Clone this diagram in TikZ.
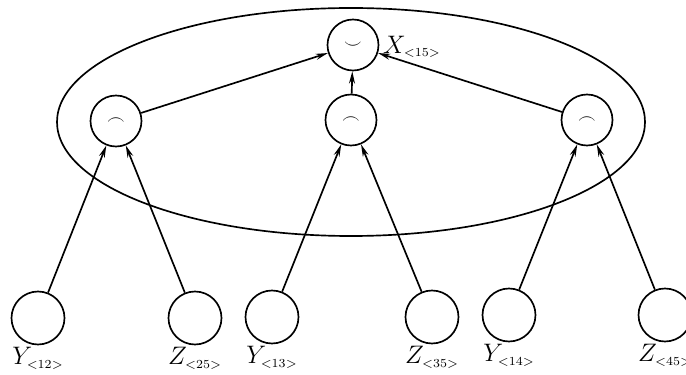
\documentclass[tikz,border=0pt]{standalone}
\usepackage{amsmath, amssymb}
\usepackage{tikz}
\usetikzlibrary{arrows.meta, positioning}

\newcommand{\idx}[2]{#1_{\scriptscriptstyle <#2>}}

\begin{document}
\begin{tikzpicture}[>={Stealth[length=7pt,width=3.4pt]},
    vtx/.style={draw, line width=0.95pt, circle, minimum size=1.02cm, inner sep=0pt},
    leaf/.style={draw, line width=0.95pt, circle, minimum size=1.06cm, inner sep=0pt},
    lbl/.style={inner sep=1pt, font=\Large},
    edge/.style={line width=0.95pt, ->}]

    % =================================================================
    % 1. KHUNG VA ELIP BAO QUANH
    % =================================================================
    \useasboundingbox (0,0) rectangle (13.72,7.48);
    \draw[line width=0.95pt] (7.02,5.04) ellipse (5.88cm and 2.28cm);

    % =================================================================
    % 2. CAC NUT (DINH TREN, HANG GIUA, HANG DUOI)
    % =================================================================
    \node[vtx] (top) at (7.06,6.58) {$\smile$};

    \node[vtx] (ml) at (2.32,5.06) {$\frown$};
    \node[vtx] (mc) at (7.02,5.08) {$\frown$};
    \node[vtx] (mr) at (11.74,5.08) {$\frown$};

    \node[leaf] (y12) at (0.76,1.12) {};
    \node[leaf] (z25) at (3.90,1.12) {};
    \node[leaf] (y13) at (5.44,1.14) {};
    \node[leaf] (z35) at (8.64,1.14) {};
    \node[leaf] (y14) at (10.18,1.18) {};
    \node[leaf] (z45) at (13.30,1.18) {};

    % =================================================================
    % 3. CAC MUI TEN
    % =================================================================
    \draw[edge] (y12) -- (ml);
    \draw[edge] (z25) -- (ml);
    \draw[edge] (y13) -- (mc);
    \draw[edge] (z35) -- (mc);
    \draw[edge] (y14) -- (mr);
    \draw[edge] (z45) -- (mr);

    \draw[edge] (ml) -- (top);
    \draw[edge] (mc) -- (top);
    \draw[edge] (mr) -- (top);

    % =================================================================
    % 4. NHAN
    % =================================================================
    \node[lbl, right=1pt of top, yshift=-1pt] (xlbl) {$\idx{X}{15}$};

    \node[lbl, below=0pt of y12] (y12lbl) {$\idx{Y}{12}$};
    \node[lbl, below=0pt of z25] (z25lbl) {$\idx{Z}{25}$};
    \node[lbl, below=0pt of y13] (y13lbl) {$\idx{Y}{13}$};
    \node[lbl, below=0pt of z35] (z35lbl) {$\idx{Z}{35}$};
    \node[lbl, below=0pt of y14] (y14lbl) {$\idx{Y}{14}$};
    \node[lbl, below=0pt of z45] (z45lbl) {$\idx{Z}{45}$};

\end{tikzpicture}
\end{document}
